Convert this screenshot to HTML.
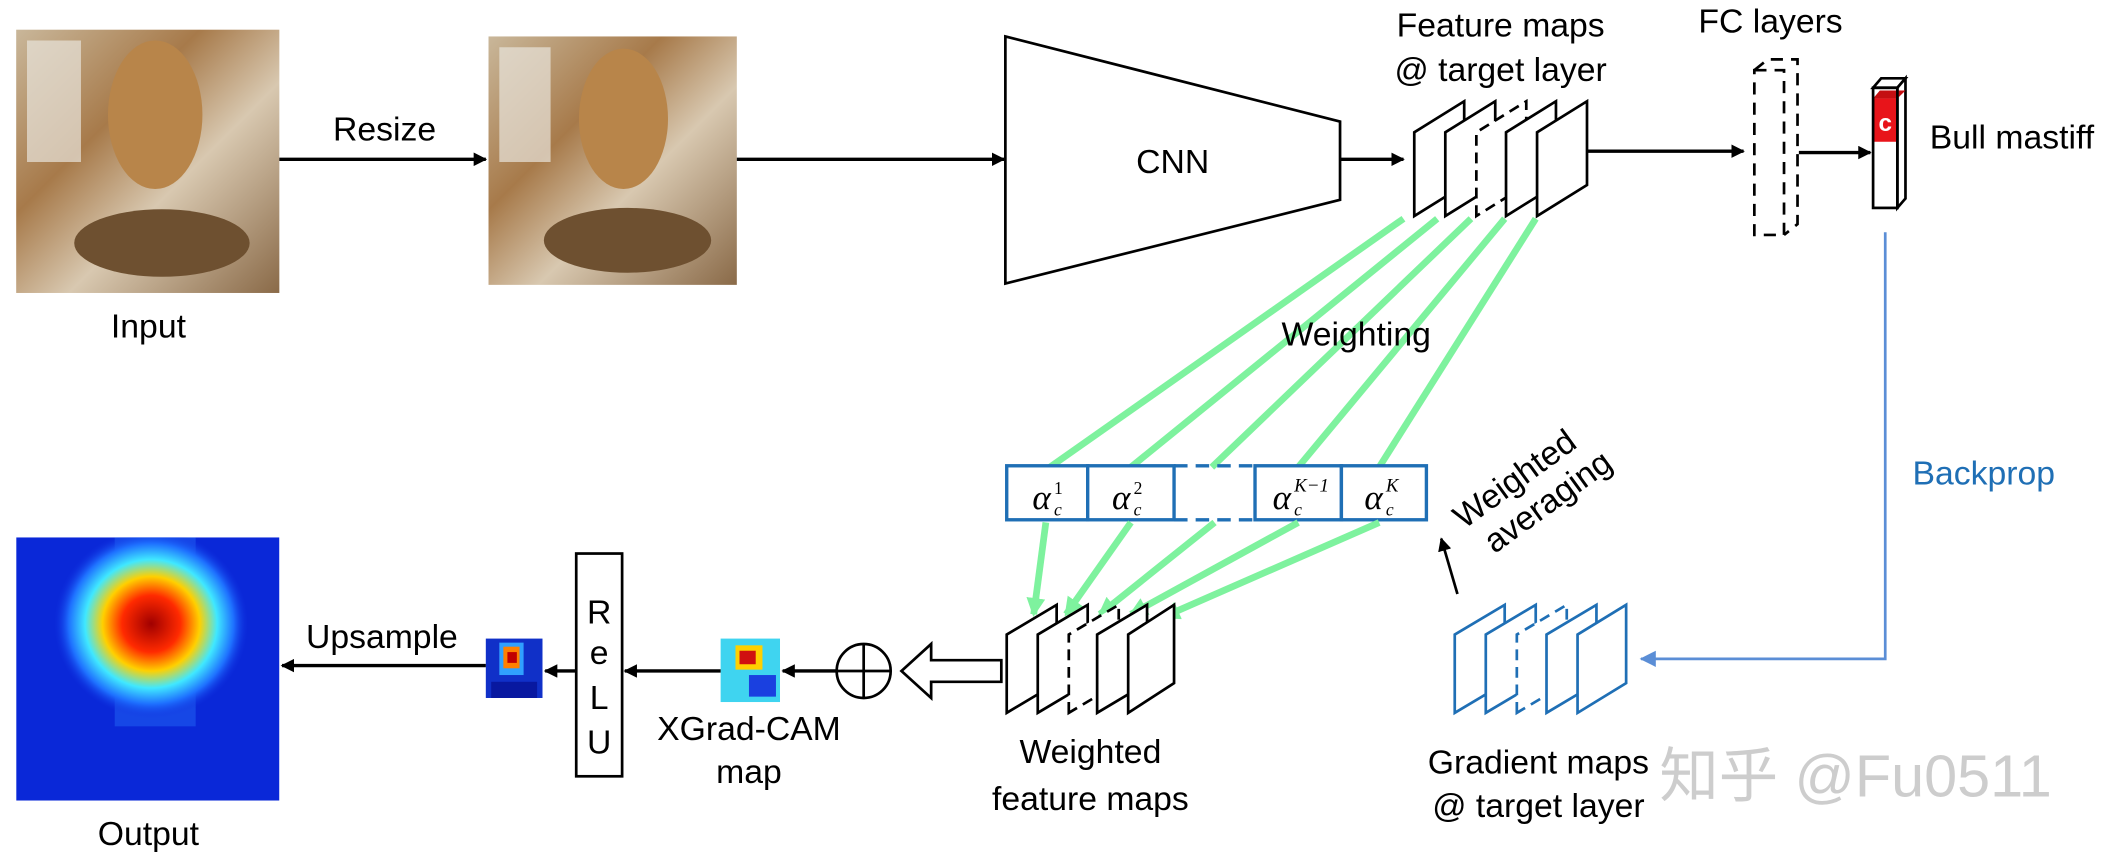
<!DOCTYPE html>
<html><head><meta charset="utf-8"><style>
html,body{margin:0;padding:0;background:#fff;width:2116px;height:860px;overflow:hidden}
svg{display:block}
text{font-family:"Liberation Sans",Arial,sans-serif;font-size:25px;fill:#000}
</style></head><body>
<svg width="2116" height="860" viewBox="0 0 1568 637" preserveAspectRatio="none" xmlns="http://www.w3.org/2000/svg">
<defs>
<marker id="ab" markerWidth="10" markerHeight="10" refX="9" refY="5" orient="auto" markerUnits="userSpaceOnUse"><path d="M0,0 L10,5 L0,10 z" fill="#000"/></marker>
<marker id="ag" markerWidth="14" markerHeight="14" refX="12" refY="7" orient="auto" markerUnits="userSpaceOnUse"><path d="M0,0 L14,7 L0,14 z" fill="#7ef29e"/></marker>
<marker id="abl" markerWidth="12" markerHeight="12" refX="11" refY="6" orient="auto" markerUnits="userSpaceOnUse"><path d="M0,0 L12,6 L0,12 z" fill="#5b8ed6"/></marker>
<linearGradient id="photo" x1="0" y1="0" x2="1" y2="1">
<stop offset="0" stop-color="#c9b79a"/><stop offset="0.35" stop-color="#a77a4a"/><stop offset="0.6" stop-color="#d8c8b0"/><stop offset="1" stop-color="#8a6a48"/></linearGradient>
<radialGradient id="heat" cx="0.5" cy="0.5" r="0.5">
<stop offset="0" stop-color="#a00000"/><stop offset="0.3" stop-color="#ff2a00"/><stop offset="0.5" stop-color="#ffd000"/><stop offset="0.68" stop-color="#40e8ff"/><stop offset="0.85" stop-color="#1e70ff"/><stop offset="1" stop-color="#1030e0" stop-opacity="0"/></radialGradient>
<clipPath id="oc"><rect x="12" y="398" width="195" height="195"/></clipPath>
</defs>

<rect x="12" y="22" width="195" height="195" fill="url(#photo)"/>
<rect x="20" y="30" width="40" height="90" fill="#e8e4dc" opacity="0.7"/>
<ellipse cx="115" cy="85" rx="35" ry="55" fill="#b8854a"/>
<ellipse cx="120" cy="180" rx="65" ry="25" fill="#6e5030"/>
<rect x="362" y="27" width="184" height="184" fill="url(#photo)"/>
<rect x="370" y="35" width="38" height="85" fill="#e8e4dc" opacity="0.7"/>
<ellipse cx="462" cy="88" rx="33" ry="52" fill="#b8854a"/>
<ellipse cx="465" cy="178" rx="62" ry="24" fill="#6e5030"/>
<text x="110" y="250" text-anchor="middle">Input</text>

<line x1="207" y1="118" x2="360" y2="118" stroke="#000" stroke-width="2.5" marker-end="url(#ab)"/>
<text x="285" y="104" text-anchor="middle">Resize</text>
<line x1="546" y1="118" x2="744" y2="118" stroke="#000" stroke-width="2.5" marker-end="url(#ab)"/>
<polygon points="745,27 993,90 993,148 745,210" fill="#fff" stroke="#000" stroke-width="2"/>
<text x="869" y="128" text-anchor="middle">CNN</text>
<line x1="993" y1="118" x2="1040" y2="118" stroke="#000" stroke-width="2.5" marker-end="url(#ab)"/>

<g fill="#fff" stroke="#000" stroke-width="2">
<polygon points="1048,160 1048,98 1085,75 1085,137"/>
<polygon points="1071,160 1071,98 1108,75 1108,137"/>
<polygon points="1094,160 1094,98 1131,75 1131,137" stroke-dasharray="8,5"/>
<polygon points="1116,160 1116,98 1153,75 1153,137"/>
<polygon points="1139,160 1139,98 1176,75 1176,137"/>
</g>
<text x="1112" y="27" text-anchor="middle">Feature maps</text>
<text x="1112" y="60" text-anchor="middle">@ target layer</text>
<line x1="1176" y1="112" x2="1292" y2="112" stroke="#000" stroke-width="2.5" marker-end="url(#ab)"/>

<g fill="none" stroke="#000" stroke-width="2" stroke-dasharray="9,6">
<rect x="1300" y="52" width="22" height="122"/>
<polyline points="1300,52 1310,44 1332,44 1332,166 1322,174"/>
</g>
<text x="1312" y="24" text-anchor="middle">FC layers</text>
<line x1="1333" y1="113" x2="1386" y2="113" stroke="#000" stroke-width="2.5" marker-end="url(#ab)"/>
<polygon points="1388,65 1394,58 1412,58 1406,65" fill="#fff" stroke="#000" stroke-width="2"/>
<polygon points="1406,65 1412,58 1412,147 1406,154" fill="#fff" stroke="#000" stroke-width="2"/>
<rect x="1388" y="73" width="18" height="32" fill="#e8141a"/>
<polygon points="1388,73 1393,67 1412,67 1406,73" fill="#c40f12"/>
<rect x="1388" y="65" width="18" height="89" fill="none" stroke="#000" stroke-width="2"/>
<text x="1397" y="97" text-anchor="middle" style="fill:#fff;font-size:18px;font-weight:bold">c</text>
<text x="1430" y="110">Bull mastiff</text>

<polyline points="1397,172 1397,488 1216,488" fill="none" stroke="#5b8ed6" stroke-width="2" marker-end="url(#abl)"/>
<text x="1470" y="359" text-anchor="middle" style="fill:#1f6fb5">Backprop</text>

<g stroke="#7ef29e" stroke-width="5" fill="none">
<line x1="1040" y1="162" x2="778" y2="346"/>
<line x1="1065" y1="162" x2="838" y2="346"/>
<line x1="1090" y1="162" x2="898" y2="346"/>
<line x1="1115" y1="162" x2="962" y2="346"/>
<line x1="1138" y1="162" x2="1022" y2="346"/>
</g>
<text x="1005" y="256" text-anchor="middle">Weighting</text>

<g fill="#fff" stroke="#1f6fb5" stroke-width="2.5">
<rect x="746" y="345" width="60" height="40"/>
<rect x="806" y="345" width="64" height="40"/>
<rect x="930" y="345" width="64" height="40"/>
<rect x="994" y="345" width="63" height="40"/>
<line x1="870" y1="345" x2="930" y2="345" stroke-dasharray="10,6"/>
<line x1="870" y1="385" x2="930" y2="385" stroke-dasharray="10,6"/>
</g>
<g>
<text x="765" y="377" style="font-family:'Liberation Serif',serif;font-style:italic;font-size:26px">α</text><text x="781" y="366" style="font-family:'Liberation Serif',serif;font-size:13px">1</text><text x="781" y="382" style="font-family:'Liberation Serif',serif;font-style:italic;font-size:13px">c</text>
<text x="824" y="377" style="font-family:'Liberation Serif',serif;font-style:italic;font-size:26px">α</text><text x="840" y="366" style="font-family:'Liberation Serif',serif;font-size:13px">2</text><text x="840" y="382" style="font-family:'Liberation Serif',serif;font-style:italic;font-size:13px">c</text>
<text x="943" y="377" style="font-family:'Liberation Serif',serif;font-style:italic;font-size:26px">α</text><text x="959" y="364" style="font-family:'Liberation Serif',serif;font-style:italic;font-size:14px">K−1</text><text x="959" y="382" style="font-family:'Liberation Serif',serif;font-style:italic;font-size:13px">c</text>
<text x="1011" y="377" style="font-family:'Liberation Serif',serif;font-style:italic;font-size:26px">α</text><text x="1027" y="364" style="font-family:'Liberation Serif',serif;font-style:italic;font-size:14px">K</text><text x="1027" y="382" style="font-family:'Liberation Serif',serif;font-style:italic;font-size:13px">c</text>
</g>

<g stroke="#7ef29e" stroke-width="5" fill="none">
<line x1="775" y1="387" x2="766" y2="455" marker-end="url(#ag)"/>
<line x1="838" y1="387" x2="790" y2="455" marker-end="url(#ag)"/>
<line x1="900" y1="387" x2="815" y2="455" marker-end="url(#ag)"/>
<line x1="962" y1="387" x2="838" y2="455" marker-end="url(#ag)"/>
<line x1="1022" y1="387" x2="862" y2="457" marker-end="url(#ag)"/>
</g>

<g fill="#fff" stroke="#000" stroke-width="2">
<polygon points="746,528 746,470 783,448 783,506"/>
<polygon points="769,528 769,470 806,448 806,506"/>
<polygon points="792,528 792,470 829,448 829,506" stroke-dasharray="8,5"/>
<polygon points="813,528 813,470 850,448 850,506"/>
<polygon points="836,528 836,470 870,448 870,506"/>
</g>
<text x="808" y="565" text-anchor="middle">Weighted</text>
<text x="808" y="600" text-anchor="middle">feature maps</text>

<polygon points="742,489 690,489 690,477 668,497 690,517 690,505 742,505" fill="#fff" stroke="#000" stroke-width="2"/>
<circle cx="640" cy="497" r="20" fill="#fff" stroke="#000" stroke-width="2"/>
<line x1="620" y1="497" x2="660" y2="497" stroke="#000" stroke-width="2"/>
<line x1="640" y1="477" x2="640" y2="517" stroke="#000" stroke-width="2"/>
<line x1="620" y1="497" x2="580" y2="497" stroke="#000" stroke-width="2.5" marker-end="url(#ab)"/>
<rect x="534" y="473" width="44" height="47" fill="#3fd4f0"/>
<rect x="545" y="478" width="20" height="18" fill="#ffd000"/>
<rect x="548" y="482" width="12" height="10" fill="#d01010"/>
<rect x="555" y="500" width="20" height="16" fill="#1a40e0"/>
<text x="555" y="548" text-anchor="middle">XGrad-CAM</text>
<text x="555" y="580" text-anchor="middle">map</text>
<line x1="534" y1="497" x2="463" y2="497" stroke="#000" stroke-width="2.5" marker-end="url(#ab)"/>
<rect x="427" y="410" width="34" height="165" fill="#fff" stroke="#000" stroke-width="2"/>
<text x="444" y="462" text-anchor="middle">R</text>
<text x="444" y="492" text-anchor="middle">e</text>
<text x="444" y="525" text-anchor="middle">L</text>
<text x="444" y="558" text-anchor="middle">U</text>
<line x1="427" y1="497" x2="404" y2="497" stroke="#000" stroke-width="2.5" marker-end="url(#ab)"/>
<rect x="360" y="473" width="42" height="44" fill="#1030c8"/>
<rect x="370" y="476" width="18" height="24" fill="#30a0ff"/>
<rect x="373" y="479" width="12" height="16" fill="#ff8000"/>
<rect x="376" y="483" width="7" height="8" fill="#c00000"/>
<rect x="364" y="505" width="34" height="12" fill="#0818a0"/>
<line x1="360" y1="493" x2="209" y2="493" stroke="#000" stroke-width="2.5" marker-end="url(#ab)"/>
<text x="283" y="480" text-anchor="middle">Upsample</text>
<g clip-path="url(#oc)">
<rect x="12" y="398" width="195" height="195" fill="#0a28d8"/>
<rect x="85" y="398" width="60" height="140" fill="#1e5cf0" opacity="0.6"/>
<ellipse cx="112" cy="462" rx="72" ry="70" fill="url(#heat)"/>
</g>
<text x="110" y="626" text-anchor="middle">Output</text>

<line x1="1080" y1="440" x2="1068" y2="399" stroke="#000" stroke-width="2" marker-end="url(#ab)"/>
<g transform="translate(1132,368) rotate(-36)">
<text x="0" y="-8" text-anchor="middle">Weighted</text>
<text x="10" y="20" text-anchor="middle">averaging</text>
</g>

<g fill="#fff" stroke="#1f6fb5" stroke-width="2">
<polygon points="1078,528 1078,470 1115,448 1115,506"/>
<polygon points="1101,528 1101,470 1138,448 1138,506"/>
<polygon points="1124,528 1124,470 1161,448 1161,506" stroke-dasharray="8,5"/>
<polygon points="1146,528 1146,470 1183,448 1183,506"/>
<polygon points="1169,528 1169,470 1205,448 1205,506"/>
</g>
<text x="1140" y="573" text-anchor="middle">Gradient maps</text>
<text x="1140" y="605" text-anchor="middle">@ target layer</text>
<text x="1375" y="590" text-anchor="middle" style="font-family:'Liberation Sans','Noto Sans CJK SC',sans-serif;font-size:44px;fill:#c8c8c8;opacity:0.9">知乎 @Fu0511</text>
</svg>
</body></html>
